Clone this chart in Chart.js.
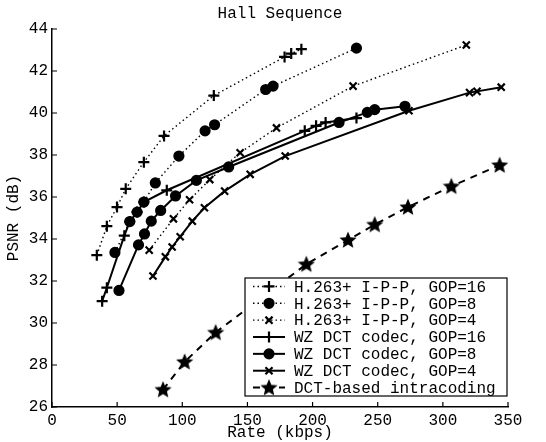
<!DOCTYPE html>
<html>
<head>
<meta charset="utf-8">
<script src="https://cdn.jsdelivr.net/npm/chart.js@4.4.0/dist/chart.umd.min.js"></script>
<style>
  body { margin: 0; background: #fff; }
</style>
</head>
<body>
<canvas id="graf" width="546" height="442"></canvas>
<script>
// Hall Sequence, PSNR (dB) vs rate (kbps)

const h263Gop16Rate = [34.4, 42.1, 49.9, 56.6, 70.5, 86, 124.2, 178.5, 183.6, 191.4];
const h263Gop16Psnr = [33.23, 34.61, 35.52, 36.39, 37.66, 38.91, 40.83, 42.67, 42.83, 43.04];

const h263Gop8Rate = [48.3, 59.7, 65.3, 70.5, 79.3, 97.4, 117.5, 124.8, 164, 169.7, 233.7];
const h263Gop8Psnr = [33.36, 34.83, 35.28, 35.76, 36.67, 37.95, 39.15, 39.44, 41.12, 41.28, 43.09];

const h263Gop4Rate = [74.6, 93.2, 105.6, 121.1, 144.4, 172.3, 231.1, 318];
const h263Gop4Psnr = [33.47, 34.96, 35.87, 36.83, 38.11, 39.29, 41.28, 43.24];

const wzGop16Rate = [38.5, 42.1, 55.5, 59.7, 65.3, 70.5, 88.1, 194, 202.7, 210, 233.7];
const wzGop16Psnr = [31.04, 31.68, 34.16, 34.83, 35.28, 35.76, 36.32, 39.15, 39.39, 39.55, 39.76];

const wzGop8Rate = [51.4, 66.4, 71, 76.2, 83.4, 94.8, 110.8, 135.6, 220.3, 242, 247.7, 270.9];
const wzGop8Psnr = [31.55, 33.72, 34.24, 34.85, 35.36, 36.05, 36.79, 37.43, 39.55, 40.03, 40.16, 40.32];

const wzGop4Rate = [77.5, 87, 92.2, 98.4, 107.7, 117, 132.5, 152.1, 179, 274, 320.5, 326.2, 344.8];
const wzGop4Psnr = [32.24, 33.15, 33.62, 34.11, 34.85, 35.49, 36.28, 37.08, 37.95, 40.11, 40.97, 41.03, 41.23];

const intraRate = [85.2, 101.8, 125.6, 195.2, 227.2, 247.7, 273.2, 306.5, 343.6];
const intraPsnr = [26.83, 28.15, 29.55, 32.8, 33.95, 34.69, 35.52, 36.51, 37.52];

const labels = [
  'H.263+ I-P-P, GOP=16',
  'H.263+ I-P-P, GOP=8',
  'H.263+ I-P-P, GOP=4',
  'WZ DCT codec, GOP=16',
  'WZ DCT codec, GOP=8',
  'WZ DCT codec, GOP=4',
  'DCT-based intracoding'
];

const xTicks = [0, 50, 100, 150, 200, 250, 300, 350];
const yTicks = [26, 28, 30, 32, 34, 36, 38, 40, 42, 44];

const zip = (rate, psnr) => rate.map((r, i) => ({ x: r, y: psnr[i] }));

// filled five point star for the intracoding curve
function makeStar(size) {
  const c = document.createElement('canvas');
  c.width = size; c.height = size;
  const g = c.getContext('2d');
  const cx = size / 2, cy = size / 2 + 0.5, ro = size / 2, ri = size / 4.4;
  g.beginPath();
  for (let k = 0; k < 10; k++) {
    const r = k % 2 ? ri : ro;
    const a = -Math.PI / 2 + k * Math.PI / 5;
    g.lineTo(cx + r * Math.cos(a), cy + r * Math.sin(a));
  }
  g.closePath();
  g.fillStyle = '#000';
  g.fill();
  return c;
}
const star = makeStar(18);

const dotted = [1.5, 3];
const dashed = [7, 6];

function serie(i, rate, psnr, marker, dash, extra) {
  return Object.assign({
    label: labels[i],
    data: zip(rate, psnr),
    borderColor: '#000',
    backgroundColor: '#000',
    pointBorderColor: '#000',
    pointBackgroundColor: '#000',
    borderWidth: dash === dotted ? 1.4 : 2,
    borderDash: dash,
    pointStyle: marker,
    pointRadius: 5.5,
    pointBorderWidth: 2.2,
    tension: 0
  }, extra || {});
}

const datasets = [
  serie(0, h263Gop16Rate, h263Gop16Psnr, 'cross', dotted),
  serie(1, h263Gop8Rate, h263Gop8Psnr, 'circle', dotted, { pointRadius: 4.5 }),
  serie(2, h263Gop4Rate, h263Gop4Psnr, 'crossRot', dotted, { pointRadius: 5 }),
  serie(3, wzGop16Rate, wzGop16Psnr, 'cross', []),
  serie(4, wzGop8Rate, wzGop8Psnr, 'circle', [], { pointRadius: 4.5 }),
  serie(5, wzGop4Rate, wzGop4Psnr, 'crossRot', [], { pointRadius: 5 }),
  serie(6, intraRate, intraPsnr, star, dashed)
];

// title centred over the plot, small ticks pointing into the plot
const frame = {
  id: 'frame',
  afterDraw(chart) {
    const ctx = chart.ctx;
    const x = chart.scales.x, y = chart.scales.y;
    ctx.save();
    ctx.fillStyle = '#000';
    ctx.font = "16px 'Liberation Mono', monospace";
    ctx.textAlign = 'center';
    ctx.textBaseline = 'middle';
    ctx.fillText('Hall Sequence', (chart.chartArea.left + chart.chartArea.right) / 2, 14);
    ctx.strokeStyle = '#000';
    ctx.lineWidth = 1.2;
    ctx.beginPath();
    x.ticks.forEach(t => {
      const px = x.getPixelForValue(t.value);
      ctx.moveTo(px, y.bottom);
      ctx.lineTo(px, y.bottom - 5);
    });
    y.ticks.forEach(t => {
      const py = y.getPixelForValue(t.value);
      ctx.moveTo(x.left, py);
      ctx.lineTo(x.left + 5, py);
    });
    ctx.stroke();
    ctx.restore();
  }
};

// boxed legend in the lower right corner of the plot
const innerLegend = {
  id: 'innerLegend',
  afterDraw(chart) {
    const ctx = chart.ctx;
    const area = chart.chartArea;
    const left = area.left + 193, top = area.top + 249;
    const right = area.right - 1, bottom = area.bottom - 11;
    const rowH = (bottom - top) / chart.data.datasets.length;
    ctx.save();
    ctx.fillStyle = '#fff';
    ctx.fillRect(left, top, right - left, bottom - top);
    ctx.strokeStyle = '#000';
    ctx.lineWidth = 1.2;
    ctx.setLineDash([]);
    ctx.strokeRect(left, top, right - left, bottom - top);
    chart.data.datasets.forEach((ds, i) => {
      const yy = top + rowH * (i + 0.5);
      ctx.strokeStyle = '#000';
      ctx.lineWidth = ds.borderWidth;
      ctx.setLineDash(ds.borderDash);
      ctx.beginPath();
      ctx.moveTo(left + 8, yy);
      ctx.lineTo(left + 40, yy);
      ctx.stroke();
      ctx.setLineDash([]);
      ctx.fillStyle = '#000';
      ctx.lineWidth = ds.pointBorderWidth;
      Chart.helpers.drawPoint(ctx, {
        pointStyle: ds.pointStyle,
        radius: ds.pointRadius,
        borderWidth: ds.pointBorderWidth,
        rotation: 0
      }, left + 24, yy);
      ctx.fillStyle = '#000';
      ctx.font = "16px 'Liberation Mono', monospace";
      ctx.textBaseline = 'middle';
      ctx.textAlign = 'left';
      ctx.fillText(ds.label, left + 49, yy + 1);
    });
    ctx.restore();
  }
};

Chart.defaults.font.family = "'Liberation Mono', monospace";
Chart.defaults.font.size = 16;
Chart.defaults.color = '#000';

const graf = new Chart(document.getElementById('graf'), {
  type: 'line',
  data: { datasets },
  options: {
    responsive: false,
    animation: false,
    layout: { padding: { right: 38, left: 0, top: 29, bottom: 0 } },
    plugins: {
      legend: { display: false },
      tooltip: { enabled: false },
      title: { display: false }
    },
    scales: {
      x: {
        type: 'linear',
        min: xTicks[0],
        max: xTicks[xTicks.length - 1],
        afterBuildTicks: s => { s.ticks = xTicks.map(v => ({ value: v })); },
        afterFit: s => { s.height = 35; },
        grid: { display: false, drawTicks: false },
        border: { display: true, color: '#000', width: 1.5 },
        ticks: { padding: 4, maxRotation: 0 },
        title: { display: true, text: 'Rate (kbps)', padding: 0 }
      },
      y: {
        type: 'linear',
        min: yTicks[0],
        max: yTicks[yTicks.length - 1],
        afterBuildTicks: s => { s.ticks = yTicks.map(v => ({ value: v })); },
        afterFit: s => { s.width = 52; },
        grid: { display: false, drawTicks: false },
        border: { display: true, color: '#000', width: 1.5 },
        ticks: { padding: 4 },
        title: { display: true, text: 'PSNR (dB)', padding: 4 }
      }
    }
  },
  plugins: [frame, innerLegend]
});
</script>
</body>
</html>
